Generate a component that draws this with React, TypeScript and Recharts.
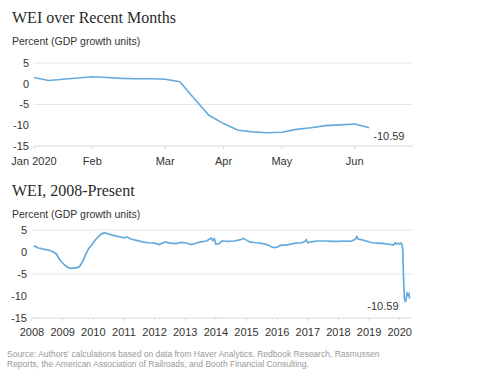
import React from 'react';
import { LineChart, Line, XAxis, YAxis, CartesianGrid } from 'recharts';

// weekly WEI readings, first week of January 2020 onward
const recentValues = [1.5, 0.8, 1.1, 1.4, 1.7, 1.5, 1.3, 1.2, 1.2, 1.1, 0.5, -3.6, -7.6, -9.6, -11.2, -11.6, -11.8, -11.7, -11.0, -10.6, -10.1, -9.9, -9.7, -10.59];
const recentTickWeeks = [0, 4, 9, 13, 17, 22];
const recentTickLabels = ['Jan 2020', 'Feb', 'Mar', 'Apr', 'May', 'Jun'];

// long history (year, value)
const longYears = [
  2008.05, 2008.1, 2008.2, 2008.3, 2008.4, 2008.5, 2008.6, 2008.7, 2008.8, 2008.9,
  2009.0, 2009.1, 2009.2, 2009.3, 2009.4, 2009.5, 2009.55, 2009.65, 2009.75, 2009.85,
  2009.95, 2010.05, 2010.15, 2010.25, 2010.35, 2010.45, 2010.6, 2010.75, 2010.9, 2011.0,
  2011.1, 2011.25, 2011.45, 2011.6, 2011.8, 2012.0, 2012.15, 2012.35, 2012.5, 2012.7,
  2012.85, 2013.0, 2013.2, 2013.35, 2013.5, 2013.7, 2013.85, 2013.9, 2013.95, 2014.0,
  2014.1, 2014.2, 2014.4, 2014.6, 2014.8, 2014.9, 2015.0, 2015.1, 2015.3, 2015.45,
  2015.6, 2015.7, 2015.8, 2015.9, 2016.0, 2016.1, 2016.3, 2016.45, 2016.6, 2016.8,
  2016.9, 2016.95, 2017.0, 2017.1, 2017.3, 2017.55, 2017.8, 2018.0, 2018.2, 2018.4,
  2018.55, 2018.6, 2018.65, 2018.75, 2018.9, 2019.1, 2019.3, 2019.5, 2019.7, 2019.8,
  2019.85, 2019.9, 2019.95, 2020.0, 2020.05, 2020.08, 2020.1, 2020.12, 2020.15, 2020.18,
  2020.21, 2020.24, 2020.27, 2020.3, 2020.32,
];
const longValues = [
  1.2, 1.3, 0.9, 0.8, 0.6, 0.5, 0.3, 0.0, -0.5, -1.7,
  -2.5, -3.2, -3.6, -3.7, -3.6, -3.5, -3.3, -2.2, -0.6, 0.8,
  1.6, 2.6, 3.4, 4.0, 4.4, 4.2, 3.9, 3.6, 3.4, 3.2,
  3.4, 2.9, 2.6, 2.3, 2.1, 2.0, 1.7, 2.3, 2.0, 1.9,
  2.2, 2.1, 1.7, 2.0, 2.3, 2.5, 3.2, 2.6, 3.0, 1.8,
  1.9, 2.5, 2.4, 2.5, 2.8, 3.1, 2.7, 2.3, 2.1, 2.0,
  1.8, 1.6, 1.2, 1.0, 1.1, 1.5, 1.6, 1.8, 2.0, 2.1,
  2.4, 2.8, 2.1, 2.3, 2.5, 2.5, 2.4, 2.4, 2.5, 2.4,
  2.9, 3.5, 2.9, 2.8, 2.5, 2.1, 2.0, 1.9, 1.7, 1.6,
  2.1, 1.8, 2.0, 1.8, 2.0, 1.6, 0.5, -5.0, -10.5, -11.4,
  -10.6, -9.4, -9.8, -9.5, -10.59,
];
const yearTicks = [2008, 2009, 2010, 2011, 2012, 2013, 2014, 2015, 2016, 2017, 2018, 2019, 2020];
const valueTicks = [-15, -10, -5, 0, 5];

const recentData = recentValues.map((v, i) => ({ week: i, wei: v }));
const longData = longYears.map((y, i) => ({ year: y, wei: longValues[i] }));

const LINE = '#65aadd';
const GRID = '#e6e6e6';
const tickStyle = { fontSize: 11, fill: '#333', fontFamily: '"Liberation Sans", Arial, sans-serif' };

const titleStyle: React.CSSProperties = {
  position: 'absolute', left: 12, fontFamily: '"Liberation Serif", "Times New Roman", serif',
  fontSize: 16, lineHeight: '16px', color: '#2b2b2b', whiteSpace: 'nowrap',
};
const subStyle: React.CSSProperties = {
  position: 'absolute', left: 12, fontFamily: '"Liberation Sans", Arial, sans-serif',
  fontSize: 10.5, lineHeight: '10.5px', color: '#333', whiteSpace: 'nowrap',
};

const lastLabel = (count: number, dx: number, dy: number, anchor: 'start' | 'end') => (props: any) => {
  if (props.index !== count - 1) return null;
  return (
    <text x={props.x + dx} y={props.y + dy} textAnchor={anchor} style={tickStyle}>
      {props.value}
    </text>
  );
};

export default function App() {
  return (
    <div style={{ position: 'absolute', left: 0, top: 0, width: 480, height: 380, background: '#fff', overflow: 'hidden' }}>
      <div style={{ ...titleStyle, top: 10 }}>WEI over Recent Months</div>
      <div style={{ ...subStyle, top: 36 }}>Percent (GDP growth units)</div>

      <div style={{ position: 'absolute', left: 0, top: 0 }}>
        <LineChart width={480} height={175} data={recentData} margin={{ top: 63, right: 67, bottom: 9, left: 0 }}>
          <CartesianGrid vertical={false} stroke={GRID} />
          <XAxis
            dataKey="week" type="number" domain={[0, 26]} ticks={recentTickWeeks}
            tickFormatter={(w: number) => recentTickLabels[recentTickWeeks.indexOf(w)]}
            axisLine={{ stroke: GRID }} tickLine={{ stroke: '#d8d8d8' }} tickSize={3} tickMargin={8}
            tick={tickStyle} height={20} interval={0}
          />
          <YAxis
            type="number" domain={[-15, 5]} ticks={valueTicks} width={34}
            axisLine={false} tickLine={false} tickSize={4} tickMargin={1} tick={tickStyle}
          />
          <Line
            dataKey="wei" stroke={LINE} strokeWidth={1.6} dot={false} isAnimationActive={false}
            label={lastLabel(recentData.length, 4, 12, 'start')}
          />
        </LineChart>
      </div>

      <div style={{ ...titleStyle, top: 183 }}>WEI, 2008-Present</div>
      <div style={{ ...subStyle, top: 209 }}>Percent (GDP growth units)</div>

      <div style={{ position: 'absolute', left: 0, top: 175 }}>
        <LineChart width={480} height={170} data={longData} margin={{ top: 55, right: 68, bottom: 7, left: 0 }}>
          <CartesianGrid vertical={false} stroke={GRID} />
          <XAxis
            dataKey="year" type="number" domain={[2008, 2020.4]} ticks={yearTicks} allowDataOverflow
            axisLine={{ stroke: GRID }} tickLine={{ stroke: '#d8d8d8' }} tickSize={3} tickMargin={7}
            tick={tickStyle} height={20} interval={0}
          />
          <YAxis
            type="number" domain={[-15, 5]} ticks={valueTicks} width={32}
            axisLine={false} tickLine={false} tickSize={4} tickMargin={1} tick={tickStyle}
          />
          <Line
            dataKey="wei" stroke={LINE} strokeWidth={1.7} dot={false} isAnimationActive={false}
            label={lastLabel(longData.length, -11, 11, 'end')}
          />
        </LineChart>
      </div>

      <div style={{
        position: 'absolute', left: 7, top: 349, fontFamily: '"Liberation Sans", Arial, sans-serif',
        fontSize: 8.5, lineHeight: '10px', color: '#999', width: 470,
      }}>
        Source: Authors' calculations based on data from Haver Analytics, Redbook Research, Rasmussen<br />
        Reports, the American Association of Railroads, and Booth Financial Consulting.
      </div>
    </div>
  );
}
